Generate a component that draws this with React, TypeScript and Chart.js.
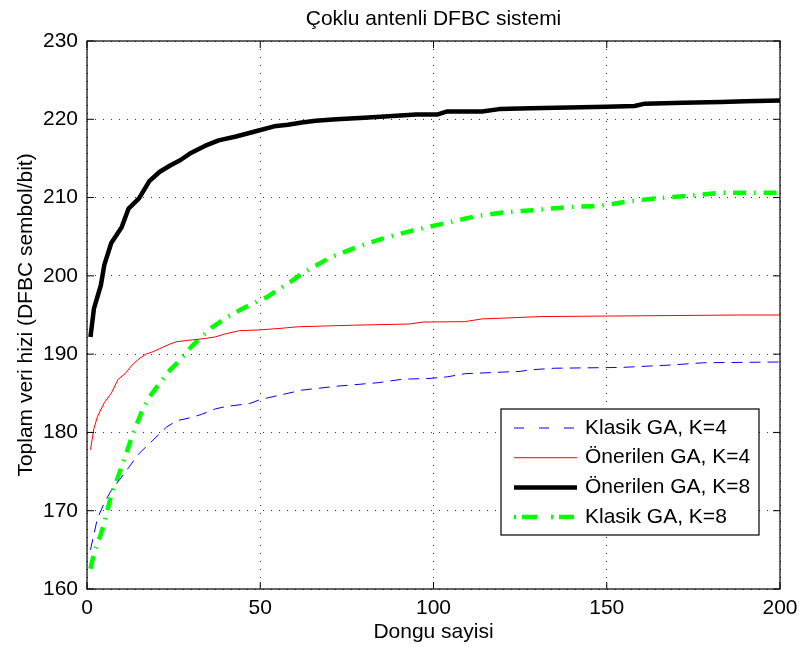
import React, { useEffect, useRef } from 'react';
import { Chart, registerables } from 'chart.js';

Chart.register(...registerables);

const FONT = '"Liberation Sans", Arial, Helvetica, sans-serif';

const TITLE = 'Çoklu antenli DFBC sistemi';
const X_LABEL = 'Dongu sayisi';
const Y_LABEL = 'Toplam veri hizi (DFBC sembol/bit)';

const X_TICKS = [0, 50, 100, 150, 200];
const Y_TICKS = [160, 170, 180, 190, 200, 210, 220, 230];

const SERIES_NAMES = ['Klasik GA, K=4', 'Önerilen GA, K=4', 'Önerilen GA, K=8', 'Klasik GA, K=8'];

// Klasik GA, K=4 (blue dashed)
const klasikK4Iter = [1, 3, 5, 7, 10, 12, 15, 19, 23, 26, 30, 33, 37, 40, 47, 50, 56, 62, 72, 84, 91, 99, 104, 109, 125, 128, 135, 154, 168, 178, 200];
const klasikK4Val = [165.0, 169.0, 171.0, 172.6, 174.3, 175.5, 177.3, 179.0, 180.7, 181.5, 181.9, 182.3, 183.0, 183.3, 183.7, 184.2, 184.8, 185.4, 185.9, 186.35, 186.8, 186.9, 187.1, 187.5, 187.8, 188.0, 188.2, 188.3, 188.6, 188.9, 189.0];

// Önerilen GA, K=4 (red solid)
const onerilenK4Iter = [1, 2, 3, 5, 7, 9, 11, 13, 15, 17, 19, 21, 24, 26, 30, 34, 37, 40, 44, 50, 56, 61, 77, 93, 97, 109, 114, 120, 131, 160, 188, 200];
const onerilenK4Val = [177.8, 180.5, 182.0, 183.8, 185.0, 186.8, 187.5, 188.6, 189.4, 190.0, 190.3, 190.7, 191.3, 191.6, 191.8, 192.0, 192.2, 192.6, 193.0, 193.1, 193.3, 193.5, 193.7, 193.85, 194.1, 194.15, 194.5, 194.6, 194.8, 194.9, 195.0, 195.0];

// Önerilen GA, K=8 (black thick)
const onerilenK8Iter = [1, 2, 4, 5, 7, 10, 12, 15, 18, 21, 24, 27, 30, 34, 38, 43, 49, 54, 58, 62, 66, 72, 80, 87, 95, 101, 104, 114, 119, 128, 139, 150, 158, 161, 172, 183, 190, 200];
const onerilenK8Val = [192.2, 195.8, 198.8, 201.4, 204.2, 206.2, 208.6, 209.9, 212.1, 213.3, 214.1, 214.8, 215.7, 216.6, 217.3, 217.8, 218.5, 219.1, 219.3, 219.6, 219.8, 220.0, 220.2, 220.4, 220.6, 220.6, 221.0, 221.0, 221.3, 221.4, 221.5, 221.6, 221.7, 222.0, 222.1, 222.2, 222.3, 222.4];

// Klasik GA, K=8 (green dash-dot)
const klasikK8Iter = [1, 2, 4, 5, 7, 10, 13, 16, 18, 21, 24, 27, 30, 33, 36, 40, 44, 48, 52, 55, 59, 62, 66, 70, 74, 78, 82, 87, 95, 103, 112, 120, 129, 139, 147, 152, 156, 164, 170, 175, 183, 200];
const klasikK8Val = [162.6, 164.5, 167.0, 168.5, 172.0, 175.6, 179.5, 182.9, 184.5, 186.3, 188.0, 189.3, 190.9, 192.2, 193.4, 194.6, 195.6, 196.5, 197.3, 198.2, 199.3, 200.3, 201.3, 202.3, 203.0, 203.7, 204.3, 205.0, 205.9, 206.7, 207.6, 208.1, 208.4, 208.8, 208.9, 209.2, 209.5, 209.9, 210.1, 210.3, 210.6, 210.6];

const toPoints = (xs: number[], ys: number[]) => xs.map((x, i) => ({ x, y: ys[i] }));

const STYLES = [
  { color: '#0000ff', width: 1, dash: [11, 7], legendDash: [10, 15] },
  { color: '#ff0000', width: 1, dash: [] as number[], legendDash: [] as number[] },
  { color: '#000000', width: 4.5, dash: [] as number[], legendDash: [] as number[] },
  { color: '#00ff00', width: 4.5, dash: [13, 8, 1.5, 8], legendDash: [2, 6, 15, 14] },
];

const decorPlugin = {
  id: 'decor',
  afterDatasetsDraw(chart: any) {
    const { ctx, chartArea: a, scales } = chart;
    ctx.save();
    ctx.setLineDash([]);
    // frame
    ctx.strokeStyle = '#000';
    ctx.lineWidth = 1.2;
    ctx.strokeRect(a.left, a.top, a.right - a.left, a.bottom - a.top);
    // inward ticks
    const tl = 7;
    ctx.lineWidth = 1;
    ctx.beginPath();
    for (const v of X_TICKS) {
      const px = scales.x.getPixelForValue(v);
      ctx.moveTo(px, a.bottom);
      ctx.lineTo(px, a.bottom - tl);
      ctx.moveTo(px, a.top);
      ctx.lineTo(px, a.top + tl);
    }
    for (const v of Y_TICKS) {
      const py = scales.y.getPixelForValue(v);
      ctx.moveTo(a.left, py);
      ctx.lineTo(a.left + tl, py);
      ctx.moveTo(a.right, py);
      ctx.lineTo(a.right - tl, py);
    }
    ctx.stroke();

    // legend
    const lw = 258;
    const lh = 126;
    const lx = a.right - 279;
    const ly = a.bottom - 180;
    ctx.fillStyle = '#fff';
    ctx.fillRect(lx, ly, lw, lh);
    ctx.strokeStyle = '#000';
    ctx.lineWidth = 1.2;
    ctx.strokeRect(lx, ly, lw, lh);
    ctx.font = `21px ${FONT}`;
    ctx.textAlign = 'left';
    ctx.textBaseline = 'middle';
    SERIES_NAMES.forEach((name, i) => {
      const st = STYLES[i];
      const yy = ly + 19 + i * 29.7;
      ctx.save();
      ctx.strokeStyle = st.color;
      ctx.lineWidth = st.width;
      ctx.lineCap = 'butt';
      ctx.setLineDash(st.legendDash);
      ctx.beginPath();
      ctx.moveTo(lx + 13, yy);
      ctx.lineTo(lx + 76, yy);
      ctx.stroke();
      ctx.restore();
      ctx.fillStyle = '#000';
      ctx.fillText(name, lx + 84, yy);
    });

    // title
    const cx = (a.left + a.right) / 2;
    ctx.fillStyle = '#000';
    ctx.textAlign = 'center';
    ctx.textBaseline = 'alphabetic';
    ctx.font = `21px ${FONT}`;
    ctx.fillText(TITLE, cx, 25);
    // x label
    ctx.fillText(X_LABEL, cx, 638);
    // y label
    ctx.save();
    ctx.translate(32, (a.top + a.bottom) / 2);
    ctx.rotate(-Math.PI / 2);
    ctx.fillText(Y_LABEL, 0, 0);
    ctx.restore();

    ctx.restore();
  },
};

export default function App() {
  const ref = useRef<HTMLCanvasElement | null>(null);

  useEffect(() => {
    document.body.style.margin = '0';
    const canvas = ref.current;
    if (!canvas) return;
    const series = [
      toPoints(klasikK4Iter, klasikK4Val),
      toPoints(onerilenK4Iter, onerilenK4Val),
      toPoints(onerilenK8Iter, onerilenK8Val),
      toPoints(klasikK8Iter, klasikK8Val),
    ];
    const chart = new Chart(canvas, {
      type: 'line',
      data: {
        datasets: series.map((data, i) => ({
          label: SERIES_NAMES[i],
          data,
          borderColor: STYLES[i].color,
          backgroundColor: STYLES[i].color,
          borderWidth: STYLES[i].width,
          borderDash: STYLES[i].dash,
          borderCapStyle: 'butt',
          borderJoinStyle: 'round',
          pointRadius: 0,
          tension: 0,
          fill: false,
        })),
      },
      options: {
        responsive: false,
        animation: false,
        events: [],
        layout: { padding: { top: 41, right: 19, left: 0, bottom: 0 } },
        plugins: {
          legend: { display: false },
          title: { display: false },
          tooltip: { enabled: false },
        },
        scales: {
          x: {
            type: 'linear',
            min: 0,
            max: 200,
            afterFit: (s: any) => { s.height = 59; s.paddingRight = 0; s.paddingLeft = 0; },
            afterBuildTicks: (s: any) => { s.ticks = X_TICKS.map((v) => ({ value: v })); },
            ticks: { color: '#000', font: { family: FONT, size: 21 }, padding: 7, maxRotation: 0 },
            grid: { color: '#333', lineWidth: 1, drawTicks: false },
            border: { display: false, dash: [1, 7] },
          },
          y: {
            type: 'linear',
            min: 160,
            max: 230,
            afterFit: (s: any) => { s.width = 87; s.paddingTop = 0; s.paddingBottom = 0; },
            afterBuildTicks: (s: any) => { s.ticks = Y_TICKS.map((v) => ({ value: v })); },
            ticks: { color: '#000', font: { family: FONT, size: 21 }, padding: 9 },
            grid: { color: '#333', lineWidth: 1, drawTicks: false },
            border: { display: false, dash: [1, 7] },
          },
        },
      },
      plugins: [decorPlugin],
    } as any);
    return () => chart.destroy();
  }, []);

  return (
    <div style={{ position: 'fixed', left: 0, top: 0, width: 799, height: 648, background: '#fff' }}>
      <canvas ref={ref} width={799} height={648} style={{ width: 799, height: 648, display: 'block' }} />
    </div>
  );
}
